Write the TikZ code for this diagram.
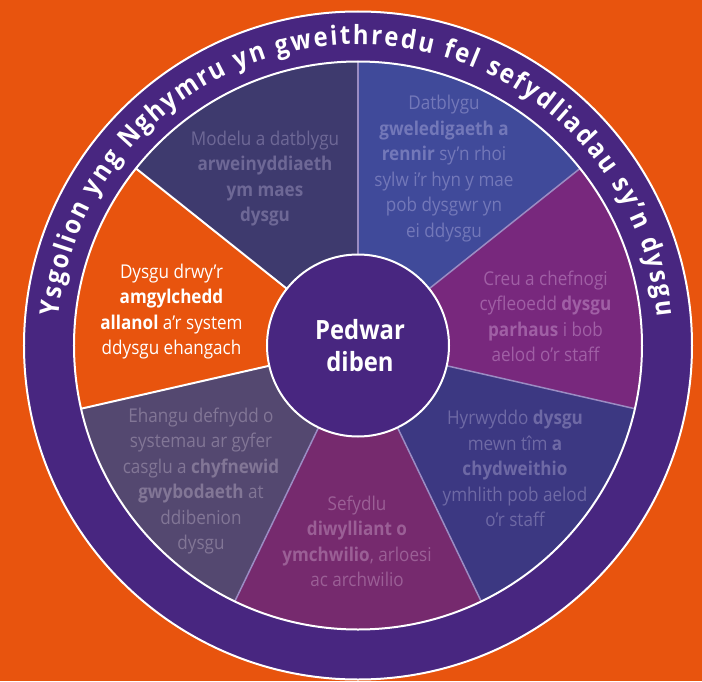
\documentclass[tikz,border=0pt]{standalone}
\usepackage{fontspec}
\setmainfont{Open Sans}[FakeStretch=0.9]
\usetikzlibrary{decorations.text}
\definecolor{bgorange}{HTML}{E8540E}
\definecolor{ringpurple}{HTML}{482680}
\definecolor{segA}{HTML}{3E3A6E}
\definecolor{segAtext}{HTML}{6E6896}
\definecolor{segB}{HTML}{404A9A}
\definecolor{segBtext}{HTML}{7378B9}
\definecolor{segC}{HTML}{78287D}
\definecolor{segCtext}{HTML}{A05FA5}
\definecolor{segD}{HTML}{3C3882}
\definecolor{segDtext}{HTML}{6E69A5}
\definecolor{segE}{HTML}{762A6E}
\definecolor{segEtext}{HTML}{9B5F96}
\definecolor{segF}{HTML}{544870}
\definecolor{segFtext}{HTML}{827696}
\definecolor{divline}{HTML}{9B8CC3}
\tikzset{
  segtext/.style={align=center, inner sep=0pt, font=\fontsize{19}{25.5}\selectfont},
  divider/.style={draw=divline, line width=1.5pt},
  whiteline/.style={draw=white, line width=2pt},
}
\begin{document}
\begin{tikzpicture}[x=1pt,y=1pt]
\useasboundingbox[fill=bgorange] (-358,-335.5) rectangle (344,345.5);
% outer ring
\fill[ringpurple] (0,0) circle (334);
\draw[whiteline] (0,0) circle (334);
% seven segments
\def\R{284}
\fill[segA] (0,0) -- (90:\R) arc[start angle=90, end angle=141.43, radius=\R] -- cycle;
\fill[bgorange] (0,0) -- (141.43:\R) arc[start angle=141.43, end angle=192.86, radius=\R] -- cycle;
\fill[segF] (0,0) -- (192.86:\R) arc[start angle=192.86, end angle=244.29, radius=\R] -- cycle;
\fill[segE] (0,0) -- (244.29:\R) arc[start angle=244.29, end angle=295.71, radius=\R] -- cycle;
\fill[segD] (0,0) -- (295.71:\R) arc[start angle=295.71, end angle=347.14, radius=\R] -- cycle;
\fill[segC] (0,0) -- (347.14:\R) arc[start angle=347.14, end angle=398.57, radius=\R] -- cycle;
\fill[segB] (0,0) -- (398.57:\R) arc[start angle=398.57, end angle=450, radius=\R] -- cycle;
% dividers
\foreach \a in {90,38.57,-12.86,-64.29,-115.71} \draw[divider] (\a:80) -- (\a:\R);
\foreach \a in {141.43,192.86} \draw[whiteline] (\a:80) -- (\a:\R);
\draw[whiteline] (0,0) circle (\R);
% centre
\fill[ringpurple] (0,0) circle (91);
\draw[whiteline] (0,0) circle (91);
\node[align=center, inner sep=0pt, text=white, font=\fontsize{26.5}{32}\selectfont\bfseries] (centre) at (2,-0.5) {Pedwar\\diben};
% ring text
\path[decorate, decoration={text along path, text color=white,
  text={|\fontsize{26.5}{26.5}\selectfont\bfseries|Ysgolion yng Nghymru yn gweithredu fel sefydliadau sy’n dysgu},
  text align={fit to path}}]
  (174.5:301) arc[start angle=174.5, end angle=5.5, radius=301];
% segment texts
\node[segtext, text=segAtext] (tA) at (-93,167) {Modelu a datblygu\\\textbf{arweinyddiaeth}\\\textbf{ym maes}\\\textbf{dysgu}};
\node[segtext, text=segBtext] (tB) at (86,177) {Datblygu\\\textbf{gweledigaeth a}\\\textbf{rennir} sy’n rhoi\\sylw i’r hyn y mae\\pob dysgwr yn\\ei ddysgu};
\node[segtext, text=segCtext] (tC) at (187.5,29) {Creu a chefnogi\\cyfleoedd \textbf{dysgu}\\\textbf{parhaus} i bob\\aelod o’r staff};
\node[segtext, text=segDtext] (tD) at (157,-123) {Hyrwyddo \textbf{dysgu}\\mewn tîm \textbf{a}\\\textbf{chydweithio}\\ymhlith pob aelod\\o’r staff};
\node[segtext, text=segEtext] (tE) at (-1,-196) {Sefydlu\\\textbf{diwylliant o}\\\textbf{ymchwilio}, arloesi\\ac archwilio};
\node[segtext, text=segFtext] (tF) at (-157,-135.5) {Ehangu defnydd o\\systemau ar gyfer\\casglu a \textbf{chyfnewid}\\\textbf{gwybodaeth} at\\ddibenion\\dysgu};
\node[segtext, text=white] (tG) at (-186.5,34) {Dysgu drwy’r\\\textbf{amgylchedd}\\\textbf{allanol} a’r system\\ddysgu ehangach};
\end{tikzpicture}
\end{document}
